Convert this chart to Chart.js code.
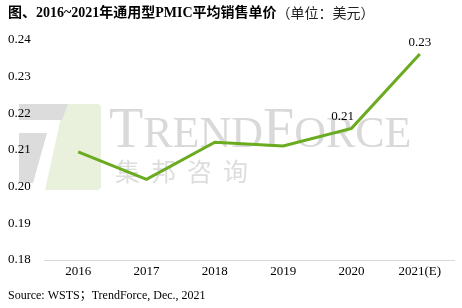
<!DOCTYPE html>
<html><head><meta charset="utf-8">
<script src="https://cdn.jsdelivr.net/npm/chart.js@4.4.0/dist/chart.umd.min.js"></script>
<style>html,body{margin:0;padding:0;background:#fff}#wrap{width:462px;height:308px;position:relative}</style>
</head><body><div id="wrap"><canvas id="c" width="462" height="308"></canvas></div>
<script>
const categories = ['2016','2017','2018','2019','2020','2021(E)'];
const prices = [0.2095, 0.2020, 0.2121, 0.2111, 0.2159, 0.2362];
const pointLabels = ['', '', '', '', '0.21', '0.23'];
const yTicks = [0.18, 0.19, 0.20, 0.21, 0.22, 0.23, 0.24];
const titleBold = '图、2016~2021年通用型PMIC平均销售单价';
const titleNormal = '（单位：美元）';
const sourceText = 'Source: WSTS；TrendForce, Dec., 2021';

const SERIF = '"Liberation Serif","Noto Sans CJK SC",serif';

const decor = {
  id: 'decor',
  beforeDraw(chart) {
    const ctx = chart.ctx;
    ctx.save();
    // logo shapes
    ctx.fillStyle = '#e9f1dc';
    ctx.beginPath();
    ctx.moveTo(64,104); ctx.lineTo(97,104); ctx.quadraticCurveTo(101,104,101,108); ctx.lineTo(101,186);
    ctx.quadraticCurveTo(101,190,97,190); ctx.lineTo(45,190); ctx.closePath(); ctx.fill();
    ctx.fillStyle = '#dcdcdc';
    ctx.beginPath();
    ctx.moveTo(19,104); ctx.lineTo(68,104); ctx.lineTo(62,120); ctx.lineTo(19,120); ctx.closePath(); ctx.fill();
    ctx.beginPath();
    ctx.moveTo(19,133); ctx.lineTo(47,133); ctx.lineTo(33,183); ctx.lineTo(19,183); ctx.closePath(); ctx.fill();
    // TRENDFORCE text
    ctx.fillStyle = '#d9d9d9';
    ctx.textBaseline = 'alphabetic';
    let x = 109;
    const parts = [['T',56],['REND',44],['F',56],['ORCE',44]];
    for (const [t,s] of parts) {
      ctx.font = s + 'px "Liberation Serif",serif';
      ctx.fillText(t, x, 147);
      x += ctx.measureText(t).width;
    }
    ctx.font = '25px "Noto Sans CJK SC",sans-serif';
    ctx.fillStyle = '#dddddd';
    const cj = '集邦咨询';
    for (let i = 0; i < cj.length; i++) ctx.fillText(cj[i], 115 + i*36, 181);
    ctx.restore();
  },
  afterDatasetsDraw(chart) {
    const ctx = chart.ctx;
    const meta = chart.getDatasetMeta(0);
    ctx.save();
    ctx.font = '13px ' + SERIF;
    ctx.fillStyle = '#000';
    ctx.textAlign = 'center';
    ctx.textBaseline = 'bottom';
    meta.data.forEach((p, i) => {
      if (pointLabels[i]) ctx.fillText(pointLabels[i], p.x - (i === 4 ? 9 : 0), p.y - 5);
    });
    // title
    ctx.textAlign = 'left';
    ctx.textBaseline = 'middle';
    ctx.font = 'bold 14px "Liberation Serif","Noto Sans CJK SC",serif';
    ctx.fillText(titleBold, 8, 13);
    const w = ctx.measureText(titleBold).width;
    ctx.font = '14px "Noto Sans CJK SC",sans-serif';
    ctx.fillStyle = '#222';
    ctx.fillText(titleNormal, 8 + w, 13);
    // source
    ctx.font = '12px ' + SERIF;
    ctx.fillStyle = '#000';
    ctx.fillText(sourceText, 8, 296);
    ctx.restore();
  }
};

new Chart(document.getElementById('c'), {
  type: 'line',
  data: {
    labels: categories,
    datasets: [{
      data: prices,
      borderColor: '#6aab1f',
      borderWidth: 3,
      pointRadius: 0,
      tension: 0,
      fill: false
    }]
  },
  options: {
    responsive: false,
    animation: false,
    layout: { padding: { left: 8, right: 8, top: 40, bottom: 28 } },
    plugins: { legend: { display: false }, tooltip: { enabled: false } },
    scales: {
      x: {
        offset: true,
        grid: { display: false, drawTicks: false },
        border: { display: true, color: '#d9d9d9', width: 1 },
        ticks: { font: { family: SERIF, size: 13 }, color: '#000', padding: 4, maxRotation: 0 },
        afterFit(s) { s.height = 20; }
      },
      y: {
        min: 0.18, max: 0.24,
        afterBuildTicks(s) { s.ticks = yTicks.map(v => ({ value: v })); },
        grid: { display: false, drawTicks: false },
        border: { display: false },
        ticks: { font: { family: SERIF, size: 13 }, color: '#000', crossAlign: 'far', padding: 0,
                 callback: v => Number(v).toFixed(2) },
        afterFit(s) { s.width = 36; }
      }
    }
  },
  plugins: [decor]
});
</script></body></html>
